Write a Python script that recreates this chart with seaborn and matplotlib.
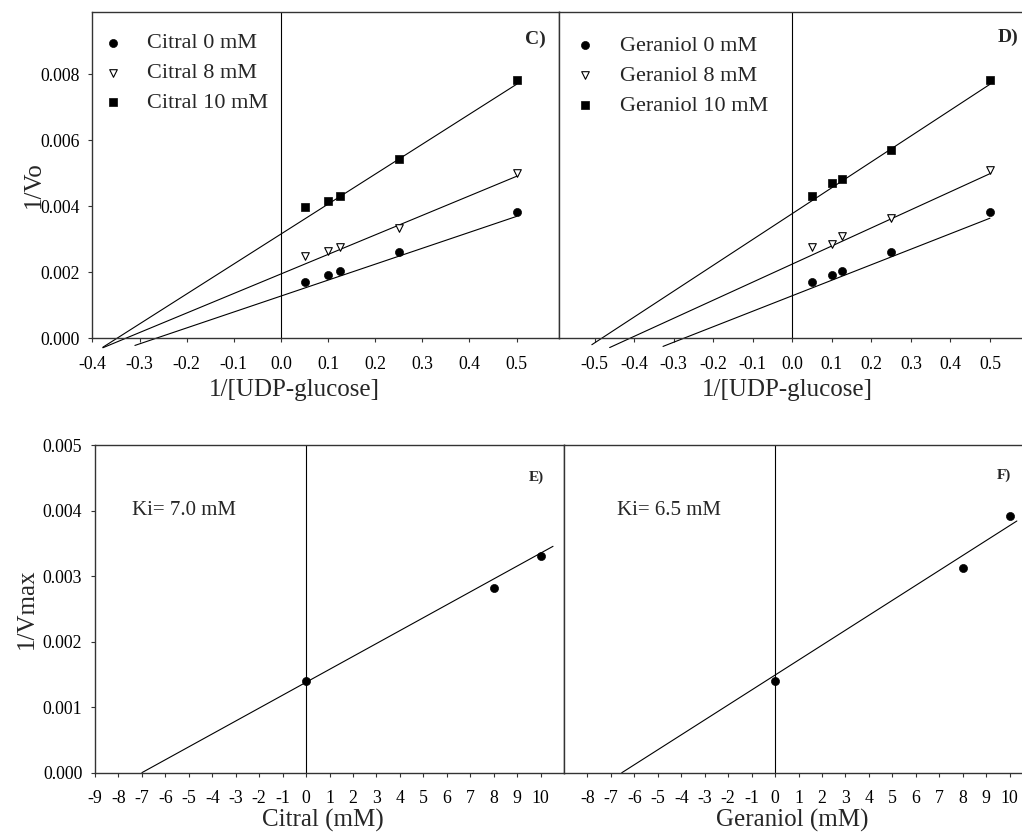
import numpy as np
import matplotlib
matplotlib.use("Agg")
import matplotlib.pyplot as plt
from matplotlib.ticker import FormatStrFormatter
import seaborn as sns

# Lineweaver-Burk data (1/[UDP-glucose] vs 1/Vo)
udp_inv = [0.05, 0.1, 0.125, 0.25, 0.5]
citral_0 = [0.00170, 0.00192, 0.00203, 0.00263, 0.00384]
citral_8 = [0.00250, 0.00265, 0.00278, 0.00333, 0.00501]
citral_10 = [0.00399, 0.00416, 0.00432, 0.00544, 0.00782]
geraniol_0 = [0.00170, 0.00192, 0.00203, 0.00263, 0.00384]
geraniol_8 = [0.00276, 0.00286, 0.00309, 0.00365, 0.00510]
geraniol_10 = [0.00432, 0.00470, 0.00484, 0.00572, 0.00782]

# fitted lines: intercept, slope, x start (end at 0.5)
citral_fit_b = [0.00128, 0.00195, 0.00316]
citral_fit_m = [0.00483, 0.00592, 0.00908]
citral_fit_x0 = [-0.31, -0.378, -0.378]
geraniol_fit_b = [0.00129, 0.00225, 0.00378]
geraniol_fit_m = [0.00470, 0.00548, 0.00784]
geraniol_fit_x0 = [-0.327, -0.462, -0.507]
fit_x1 = 0.5

# secondary plots (inhibitor conc vs 1/Vmax)
citral_conc = [0, 8, 10]
citral_vmax = [0.00140, 0.00282, 0.00330]
citral_ki_fit = (0.00138, 0.000197, -7.0, 10.53)
geraniol_conc = [0, 8, 10]
geraniol_vmax = [0.00140, 0.00313, 0.00391]
geraniol_ki_fit = (0.00149, 0.000228, -6.54, 10.31)

c_xticks = [-0.4, -0.3, -0.2, -0.1, 0.0, 0.1, 0.2, 0.3, 0.4, 0.5]
d_xticks = [-0.5, -0.4, -0.3, -0.2, -0.1, 0.0, 0.1, 0.2, 0.3, 0.4, 0.5]

sns.set_theme(style="ticks")
plt.rcParams['font.family'] = ['Liberation Serif', 'DejaVu Serif']
plt.rcParams['axes.unicode_minus'] = False
plt.rcParams['axes.edgecolor'] = '#333333'
plt.rcParams['axes.linewidth'] = 1.0

fig = plt.figure(figsize=(10.22, 8.34), dpi=100)
ax_c = fig.add_axes([0.0905, 0.5944, 0.4565, 0.3916])
ax_d = fig.add_axes([0.547, 0.5944, 0.4565, 0.3916])
ax_e = fig.add_axes([0.093, 0.0735, 0.4589, 0.3929])
ax_f = fig.add_axes([0.5519, 0.0735, 0.4589, 0.3929])

styles = [dict(marker='o', s=34, color='black', edgecolor='black'),
          dict(marker='v', s=30, color='white', edgecolor='black', linewidth=0.8),
          dict(marker='s', s=36, color='black', edgecolor='black')]

legend_kw = dict(loc='upper left', frameon=False, fontsize=16, borderpad=0,
                 borderaxespad=0, handlelength=1.0, handletextpad=1.05,
                 labelspacing=0.42)


def lb_panel(ax, name, series, fit_b, fit_m, fit_x0):
    for ys, st, conc, b, m, x0 in zip(series, styles, ['0', '8', '10'], fit_b, fit_m, fit_x0):
        xs = [x0, fit_x1]
        sns.lineplot(x=xs, y=[b + m * v for v in xs], ax=ax, color='black',
                     linewidth=0.8, clip_on=False)
        sns.scatterplot(x=udp_inv, y=ys, ax=ax, label=f'{name} {conc} mM',
                        zorder=3, **st)
    ax.axvline(0, color='black', linewidth=0.8)
    ax.set_ylim(0, 0.0099)
    ax.set_xlabel('1/[UDP-glucose]', fontsize=18)


lb_panel(ax_c, 'Citral', [citral_0, citral_8, citral_10],
         citral_fit_b, citral_fit_m, citral_fit_x0)
lb_panel(ax_d, 'Geraniol', [geraniol_0, geraniol_8, geraniol_10],
         geraniol_fit_b, geraniol_fit_m, geraniol_fit_x0)

ax_c.set_xlim(-0.4, 0.59)
ax_c.set_xticks(c_xticks)
ax_c.set_yticks([0, 0.002, 0.004, 0.006, 0.008])
ax_c.yaxis.set_major_formatter(FormatStrFormatter('%.3f'))
ax_c.xaxis.set_major_formatter(FormatStrFormatter('%.1f'))
ax_c.set_ylabel('1/Vo', fontsize=18)
ax_c.legend(bbox_to_anchor=(0.02, 0.935), **legend_kw)
ax_c.text(0.562, 0.00907, 'C)', fontsize=14, fontweight='bold', ha='right', va='center')

ax_d.set_xlim(-0.59, 0.59)
ax_d.set_xticks(d_xticks)
ax_d.xaxis.set_major_formatter(FormatStrFormatter('%.1f'))
ax_d.set_yticks([])
ax_d.set_ylabel('')
ax_d.legend(bbox_to_anchor=(0.032, 0.927), **legend_kw)
ax_d.text(0.5715, 0.00912, 'D)', fontsize=14, fontweight='bold', ha='right', va='center')


def ki_panel(ax, conc, vmax, fit, label, ki_text, ki_x, tag, tag_x, tag_y):
    b, m, x0, x1 = fit
    sns.lineplot(x=[x0, x1], y=[b + m * x0, b + m * x1], ax=ax, color='black',
                 linewidth=0.8, clip_on=False)
    sns.scatterplot(x=conc, y=vmax, ax=ax, zorder=3, **styles[0])
    ax.axvline(0, color='black', linewidth=0.8)
    ax.set_xlim(-9, 11)
    ax.set_ylim(0, 0.005)
    ax.set_xlabel(label, fontsize=18)
    ax.text(ki_x, 0.004, ki_text, fontsize=15, ha='left', va='center')
    ax.text(tag_x, tag_y, tag, fontsize=11, fontweight='bold', ha='right', va='center')


ki_panel(ax_e, citral_conc, citral_vmax, citral_ki_fit, 'Citral (mM)',
         'Ki= 7.0 mM', -7.42, 'E)', 10.15, 0.00451)
ki_panel(ax_f, geraniol_conc, geraniol_vmax, geraniol_ki_fit, 'Geraniol (mM)',
         'Ki= 6.5 mM', -6.73, 'F)', 10.06, 0.00454)

ax_e.set_xticks(range(-9, 11))
ax_e.set_yticks([0, 0.001, 0.002, 0.003, 0.004, 0.005])
ax_e.yaxis.set_major_formatter(FormatStrFormatter('%.3f'))
ax_e.set_ylabel('1/Vmax', fontsize=18)
ax_f.set_xticks(range(-8, 11))
ax_f.set_yticks([])
ax_f.set_ylabel('')

for ax in [ax_c, ax_d, ax_e, ax_f]:
    ax.tick_params(axis='both', direction='out', length=3.2, width=0.8,
                   colors='#333333', labelcolor='black', labelsize=12.8)
    ax.tick_params(axis='x', pad=9.5)
    ax.tick_params(axis='y', pad=6)

ax_c.xaxis.set_label_coords(0.433, -0.125)
ax_d.xaxis.set_label_coords(0.49, -0.125)
ax_e.xaxis.set_label_coords(0.485, -0.112)
ax_f.xaxis.set_label_coords(0.4876, -0.112)
ax_c.yaxis.set_label_coords(-0.103, 0.469)
ax_e.yaxis.set_label_coords(-0.1226, 0.5)

fig.savefig('out.png', dpi=100)
